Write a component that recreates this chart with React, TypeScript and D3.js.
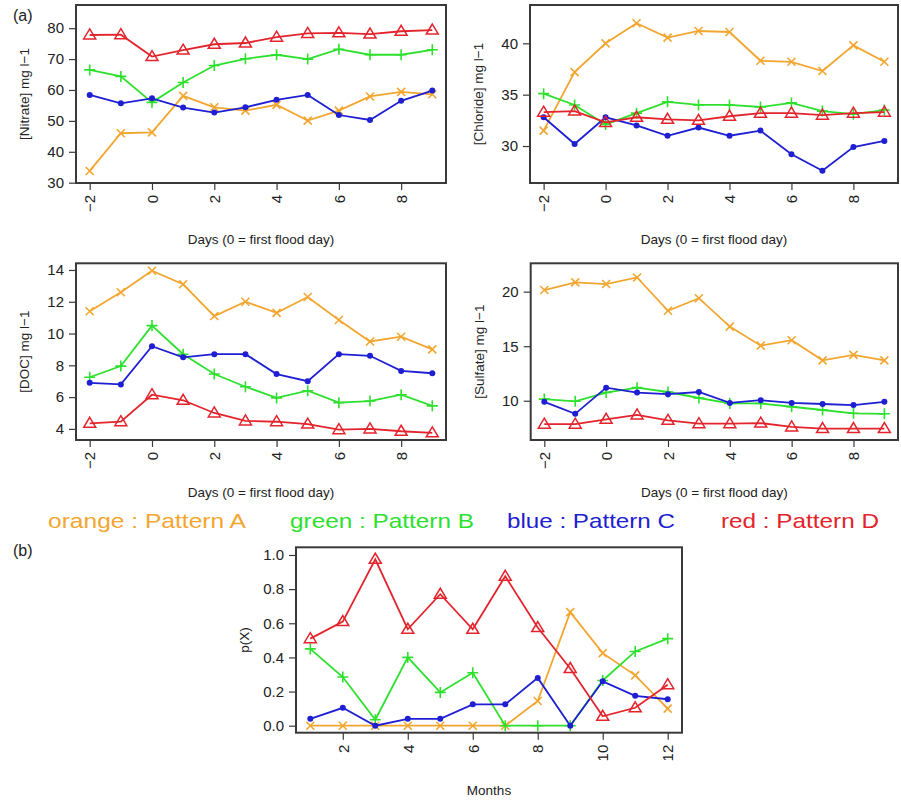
import React, { useEffect, useRef } from 'react';
import * as d3 from 'd3';

// days relative to first flood day, and months for panel (b)
const days = [-2, -1, 0, 1, 2, 3, 4, 5, 6, 7, 8, 9];
const months = [1, 2, 3, 4, 5, 6, 7, 8, 9, 10, 11, 12];

// Nitrate (mg l-1)
const nitrateA = [33.8, 46.0, 46.3, 58.1, 54.4, 53.3, 55.2, 50.1, 53.3, 57.9, 59.4, 58.6];
const nitrateB = [66.5, 64.4, 56.0, 62.4, 67.9, 70.1, 71.4, 70.0, 73.2, 71.4, 71.4, 73.0];
const nitrateC = [58.4, 55.7, 57.3, 54.3, 52.7, 54.4, 56.8, 58.4, 51.9, 50.3, 56.5, 59.8];
const nitrateD = [77.8, 77.9, 70.8, 72.9, 74.8, 75.2, 77.1, 78.3, 78.5, 78.1, 79.0, 79.4];

// Chloride (mg l-1)
const chlorideA = [31.5, 37.2, 40.0, 41.95, 40.55, 41.2, 41.1, 38.3, 38.2, 37.3, 39.8, 38.2];
const chlorideB = [35.1, 34.0, 32.1, 33.2, 34.3, 34.0, 34.0, 33.8, 34.2, 33.4, 33.1, 33.5];
const chlorideC = [32.8, 30.2, 32.8, 32.0, 31.0, 31.8, 31.0, 31.5, 29.2, 27.6, 29.9, 30.5];
const chlorideD = [33.3, 33.4, 32.3, 32.8, 32.6, 32.5, 32.9, 33.2, 33.2, 33.0, 33.2, 33.3];

// DOC (mg l-1)
const docA = [11.4, 12.6, 13.95, 13.1, 11.1, 12.0, 11.3, 12.3, 10.85, 9.5, 9.8, 9.0];
const docB = [7.25, 7.95, 10.5, 8.7, 7.45, 6.65, 5.95, 6.4, 5.65, 5.75, 6.15, 5.45];
const docC = [6.9, 6.8, 9.2, 8.5, 8.7, 8.7, 7.45, 7.0, 8.7, 8.6, 7.65, 7.5];
const docD = [4.35, 4.45, 6.15, 5.8, 5.0, 4.5, 4.45, 4.3, 3.95, 4.0, 3.85, 3.75];

// Sulfate (mg l-1)
const sulfateA = [20.15, 20.85, 20.7, 21.3, 18.25, 19.4, 16.8, 15.05, 15.55, 13.7, 14.2, 13.7];
const sulfateB = [10.15, 9.95, 10.75, 11.2, 10.8, 10.25, 9.75, 9.75, 9.45, 9.15, 8.85, 8.8];
const sulfateC = [9.9, 8.8, 11.2, 10.75, 10.6, 10.8, 9.8, 10.05, 9.8, 9.7, 9.6, 9.9];
const sulfateD = [7.85, 7.85, 8.3, 8.7, 8.2, 7.9, 7.9, 7.95, 7.6, 7.45, 7.45, 7.45];

// p(X) per month
const pA = [0, 0, 0, 0, 0, 0, 0, 0.145, 0.665, 0.425, 0.295, 0.1];
const pB = [0.45, 0.285, 0.035, 0.4, 0.195, 0.31, 0, 0, 0, 0.265, 0.435, 0.51];
const pC = [0.04, 0.105, 0, 0.04, 0.04, 0.125, 0.125, 0.28, 0, 0.26, 0.175, 0.155];
const pD = [0.51, 0.61, 0.975, 0.565, 0.77, 0.565, 0.875, 0.575, 0.335, 0.055, 0.105, 0.24];

const patternNames = ['orange : Pattern A', 'green : Pattern B', 'blue : Pattern C', 'red : Pattern D'];
const colors = ['#F2A630', '#2EE02E', '#1E1ED2', '#E3242C'];
const markers = ['x', 'plus', 'dot', 'tri'];

const FONT = '"Liberation Sans", Arial, sans-serif';

export default function App() {
  const ref = useRef<SVGSVGElement>(null);

  useEffect(() => {
    const svg = d3.select(ref.current);
    svg.selectAll('*').remove();

    const panels = [
      { xs: days, series: [nitrateA, nitrateB, nitrateC, nitrateD], box: [76, 5, 446, 183], xdom: [-2.44, 9.44], ydom: [29.9, 87.5], yticks: [30, 40, 50, 60, 70, 80], xticks: [-2, 0, 2, 4, 6, 8], ylabel: '[Nitrate] mg l\u22121', xlabel: 'Days (0 = first flood day)', xlabY: 244, fmt: (d: number) => String(d) },
      { xs: days, series: [chlorideA, chlorideB, chlorideC, chlorideD], box: [530, 5, 898, 183], xdom: [-2.44, 9.44], ydom: [26.4, 43.73], yticks: [30, 35, 40], xticks: [-2, 0, 2, 4, 6, 8], ylabel: '[Chloride] mg l\u22121', xlabel: 'Days (0 = first flood day)', xlabY: 244, fmt: (d: number) => String(d) },
      { xs: days, series: [docA, docB, docC, docD], box: [76, 263.3, 446, 440], xdom: [-2.44, 9.44], ydom: [3.3, 14.42], yticks: [4, 6, 8, 10, 12, 14], xticks: [-2, 0, 2, 4, 6, 8], ylabel: '[DOC] mg l\u22121', xlabel: 'Days (0 = first flood day)', xlabY: 497, fmt: (d: number) => String(d) },
      { xs: days, series: [sulfateA, sulfateB, sulfateC, sulfateD], box: [530.7, 263.3, 898, 440], xdom: [-2.44, 9.44], ydom: [6.4, 22.6], yticks: [10, 15, 20], xticks: [-2, 0, 2, 4, 6, 8], ylabel: '[Sulfate] mg l\u22121', xlabel: 'Days (0 = first flood day)', xlabY: 497, fmt: (d: number) => String(d) },
      { xs: months, series: [pA, pB, pC, pD], box: [296, 547.3, 682, 732.7], xdom: [0.56, 12.44], ydom: [-0.041, 1.045], yticks: [0, 0.2, 0.4, 0.6, 0.8, 1.0], xticks: [2, 4, 6, 8, 10, 12], ylabel: 'p(X)', xlabel: 'Months', xlabY: 795, fmt: (d: number) => d3.format('.1f')(d) },
    ];

    panels.forEach(p => {
      const [x0, y0, x1, y1] = p.box;
      const x = d3.scaleLinear().domain(p.xdom).range([x0, x1]);
      const y = d3.scaleLinear().domain(p.ydom).range([y1, y0]);
      const g = svg.append('g');

      // series lines + markers
      p.series.forEach((vals, si) => {
        const pts = vals.map((v, i) => [x(p.xs[i]), y(v)] as [number, number]);
        g.append('path')
          .attr('d', d3.line()(pts))
          .attr('fill', 'none')
          .attr('stroke', colors[si])
          .attr('stroke-width', 1.8);
        pts.forEach(([px, py]) => {
          const m = markers[si];
          if (m === 'x') {
            g.append('path').attr('d', `M${px - 4},${py - 4}L${px + 4},${py + 4}M${px - 4},${py + 4}L${px + 4},${py - 4}`)
              .attr('stroke', colors[si]).attr('stroke-width', 1.6);
          } else if (m === 'plus') {
            g.append('path').attr('d', `M${px - 5.5},${py}L${px + 5.5},${py}M${px},${py - 5.5}L${px},${py + 5.5}`)
              .attr('stroke', colors[si]).attr('stroke-width', 1.6);
          } else if (m === 'dot') {
            g.append('circle').attr('cx', px).attr('cy', py).attr('r', 3).attr('fill', colors[si]);
          } else {
            g.append('path').attr('d', `M${px},${py - 6}L${px + 6},${py + 4}L${px - 6},${py + 4}Z`)
              .attr('fill', 'none').attr('stroke', colors[si]).attr('stroke-width', 1.5);
          }
        });
      });

      // box
      g.append('rect').attr('x', x0).attr('y', y0).attr('width', x1 - x0).attr('height', y1 - y0)
        .attr('fill', 'none').attr('stroke', '#3a3a3a').attr('stroke-width', 2);

      // y axis
      const ya = g.append('g').attr('transform', `translate(${x0},0)`)
        .call(d3.axisLeft(y).tickValues(p.yticks).tickSize(7).tickPadding(5).tickFormat(p.fmt as any));
      ya.select('.domain').remove();
      ya.selectAll('line').attr('stroke', '#3a3a3a').attr('stroke-width', 1.2);
      ya.selectAll('text').attr('font-family', FONT).attr('font-size', 15).attr('fill', '#222');

      // x axis, labels rotated
      const xa = g.append('g').attr('transform', `translate(0,${y1})`)
        .call(d3.axisBottom(x).tickValues(p.xticks).tickSize(7).tickFormat(d => String(d).replace('-', '\u2212')));
      xa.select('.domain').remove();
      xa.selectAll('line').attr('stroke', '#3a3a3a').attr('stroke-width', 1.2);
      xa.selectAll('text')
        .attr('font-family', FONT).attr('font-size', 15).attr('fill', '#222')
        .attr('transform', 'rotate(-90)')
        .attr('text-anchor', 'end')
        .attr('x', -12).attr('y', 0).attr('dy', '0.35em');

      // titles
      g.append('text').attr('x', (x0 + x1) / 2).attr('y', p.xlabY).attr('text-anchor', 'middle')
        .attr('font-family', FONT).attr('font-size', 13.5).attr('fill', '#222').text(p.xlabel);
      g.append('text').attr('transform', `translate(${x0 - 47},${(y0 + y1) / 2}) rotate(-90)`)
        .attr('text-anchor', 'middle')
        .attr('font-family', FONT).attr('font-size', 13.5).attr('fill', '#222').text(p.ylabel);
    });

    // panel letters
    svg.append('text').attr('x', 13).attr('y', 21).attr('font-family', FONT).attr('font-size', 16).attr('fill', '#222').text('(a)');
    svg.append('text').attr('x', 13).attr('y', 556).attr('font-family', FONT).attr('font-size', 16).attr('fill', '#222').text('(b)');

    // legend line
    const legX = [48, 290, 507, 721];
    const legW = [198, 184, 168, 158];
    patternNames.forEach((name, i) => {
      svg.append('text').attr('x', legX[i]).attr('y', 528)
        .attr('font-family', FONT).attr('font-size', 21)
        .attr('textLength', legW[i]).attr('lengthAdjust', 'spacingAndGlyphs')
        .attr('fill', colors[i]).text(name);
    });
  }, []);

  return (
    <svg ref={ref} width={901} height={803}
      style={{ position: 'absolute', left: 0, top: 0, background: '#fff' }} />
  );
}
